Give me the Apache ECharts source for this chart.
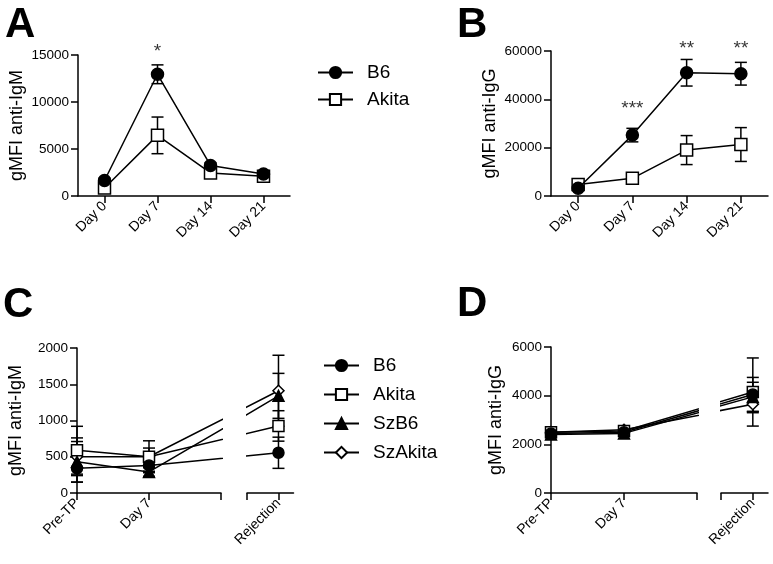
<!DOCTYPE html>
<html>
<head>
<meta charset="utf-8">
<script src="https://cdn.jsdelivr.net/npm/echarts@6/dist/echarts.min.js"></script>
<style>
  html, body { margin: 0; padding: 0; background: #fff; }
  #chart { width: 773px; height: 564px; }
</style>
</head>
<body>
<div id="chart"></div>
<script>
// ---- data: panels A & B (time course after immunisation) ----
const daysAB = ['Day 0', 'Day 7', 'Day 14', 'Day 21'];
const igmB6 = [1650, 12950, 3250, 2350];
const igmB6Sem = [250, 1000, 300, 200];
const igmAkita = [850, 6450, 2450, 2100];
const igmAkitaSem = [250, 1950, 300, 250];
const iggB6 = [3200, 25200, 51000, 50600];
const iggB6Sem = [600, 2800, 5500, 4700];
const iggAkita = [4800, 7300, 19000, 21300];
const iggAkitaSem = [800, 1000, 6000, 7000];
const sigA = ['', '*', '', ''];
const sigAHeight = [null, 15300, null, null];
const sigB = ['', '***', '**', '**'];
const sigBHeight = [null, 36000, 61000, 61000];

// ---- data: panels C & D (transplant) ----
const groupsCD = ['Pre-TP', 'Day 7', 'Rejection'];
const igmCB6 = [340, 380, 555];
const igmCB6Sem = [190, 80, 215];
const igmCAkita = [590, 500, 925];
const igmCAkitaSem = [330, 220, 210];
const igmCSzB6 = [430, 290, 1340];
const igmCSzB6Sem = [280, 60, 310];
const igmCSzAkita = [500, 500, 1410];
const igmCSzAkitaSem = [260, 120, 490];
const iggDB6 = [2450, 2500, 4050];
const iggDB6Sem = [150, 100, 700];
const iggDAkita = [2500, 2550, 4150];
const iggDAkitaSem = [150, 100, 1400];
const iggDSzB6 = [2400, 2450, 3950];
const iggDSzB6Sem = [120, 100, 600];
const iggDSzAkita = [2500, 2600, 3650];
const iggDSzAkitaSem = [150, 100, 350];

// x positions of the C/D groups on the broken axis (layout)
const xPos = [0, 1, 2.8];
const leftMax = 2;
const rightMin = 2.36;
const rightMax = 3.01;

const font = "'Liberation Sans', Arial, Helvetica, sans-serif";
const black = '#000';

const chart = echarts.init(document.getElementById('chart'), null, { renderer: 'canvas' });

const axisLine = { show: true, onZero: false, lineStyle: { color: black, width: 1.5 } };
const tickStyle = { color: black, width: 1.5 };

function yAxis(gi, max, interval, name, gap, show) {
  return {
    type: 'value', gridIndex: gi, min: 0, max: max, interval: interval, show: show,
    splitLine: { show: false },
    axisLine: axisLine,
    axisTick: { show: true, length: 7, lineStyle: tickStyle },
    axisLabel: { fontSize: 13.5, margin: 9, color: black, fontFamily: font, formatter: v => String(v) },
    name: name, nameLocation: 'middle', nameGap: gap, nameMoveOverlap: false,
    nameTextStyle: { fontSize: 18, color: black, fontFamily: font }
  };
}

function catAxis(gi) {
  return {
    type: 'category', gridIndex: gi, data: daysAB, boundaryGap: true,
    axisLine: axisLine,
    axisTick: { show: true, alignWithLabel: true, length: 7, lineStyle: tickStyle },
    axisLabel: { rotate: 45, interval: 0, fontSize: 14, margin: 8, color: black, fontFamily: font },
    splitLine: { show: false }
  };
}

function brokenAxis(gi, min, max, ticks, labels) {
  return {
    type: 'value', gridIndex: gi, min: min, max: max,
    axisLine: axisLine,
    axisTick: { show: true, length: 7, lineStyle: tickStyle, customValues: ticks },
    axisLabel: {
      rotate: 45, fontSize: 14, margin: 8, color: black, fontFamily: font,
      customValues: labels,
      formatter: v => {
        const i = xPos.findIndex(p => Math.abs(p - v) < 1e-6);
        return i >= 0 ? groupsCD[i] : '';
      }
    },
    splitLine: { show: false }
  };
}

const styles = {
  B6: { symbol: 'circle', fill: black },
  Akita: { symbol: 'rect', fill: '#fff' },
  SzB6: { symbol: 'triangle', fill: black },
  SzAkita: { symbol: 'diamond', fill: '#fff' }
};

function lineSeries(name, ai, data, size, z) {
  return {
    type: 'line', name: name, xAxisIndex: ai, yAxisIndex: ai, data: data,
    symbol: styles[name].symbol, symbolSize: size, showSymbol: true,
    lineStyle: { color: black, width: 1.5 },
    itemStyle: { color: styles[name].fill, borderColor: black, borderWidth: 1.5 },
    emphasis: { disabled: true },
    z: z
  };
}

function errSeries(ai, pts) {
  return {
    type: 'custom', xAxisIndex: ai, yAxisIndex: ai, data: pts, z: 1,
    renderItem: (params, api) => {
      const top = api.coord([api.value(0), api.value(2)]);
      const bot = api.coord([api.value(0), api.value(1)]);
      const w = 6;
      const st = { stroke: black, lineWidth: 1.5 };
      return {
        type: 'group',
        children: [
          { type: 'line', shape: { x1: top[0], y1: top[1], x2: bot[0], y2: bot[1] }, style: st },
          { type: 'line', shape: { x1: top[0] - w, y1: top[1], x2: top[0] + w, y2: top[1] }, style: st },
          { type: 'line', shape: { x1: bot[0] - w, y1: bot[1], x2: bot[0] + w, y2: bot[1] }, style: st }
        ]
      };
    }
  };
}

function errCat(vals, sem) {
  return vals.map((v, i) => [i, v - sem[i], v + sem[i]]);
}

function errBroken(vals, sem, keep) {
  return vals.map((v, i) => [xPos[i], v - sem[i], v + sem[i]]).filter(p => keep(p[0]));
}

function sigSeries(ai, marks, heights) {
  const data = [];
  marks.forEach((s, i) => { if (s) data.push({ name: s, value: [i, heights[i]] }); });
  return {
    type: 'scatter', xAxisIndex: ai, yAxisIndex: ai, clip: false, symbolSize: 1,
    itemStyle: { color: 'rgba(0,0,0,0)' }, data: data, z: 5,
    label: { show: true, position: 'inside', formatter: '{b}', fontSize: 19, color: black, fontFamily: font }
  };
}

const series = [];

// A
series.push(errSeries(0, errCat(igmAkita, igmAkitaSem)));
series.push(errSeries(0, errCat(igmB6, igmB6Sem)));
series.push(lineSeries('Akita', 0, igmAkita, 12, 2));
series.push(lineSeries('B6', 0, igmB6, 12, 3));
series.push(sigSeries(0, sigA, sigAHeight));

// B
series.push(errSeries(1, errCat(iggAkita, iggAkitaSem)));
series.push(errSeries(1, errCat(iggB6, iggB6Sem)));
series.push(lineSeries('Akita', 1, iggAkita, 12, 2));
series.push(lineSeries('B6', 1, iggB6, 12, 3));
series.push(sigSeries(1, sigB, sigBHeight));

// C and D: each on a left and a right grid (broken x axis)
const cdSets = [
  { ai: 2, groups: [['SzAkita', igmCSzAkita, igmCSzAkitaSem], ['Akita', igmCAkita, igmCAkitaSem], ['SzB6', igmCSzB6, igmCSzB6Sem], ['B6', igmCB6, igmCB6Sem]] },
  { ai: 4, groups: [['SzAkita', iggDSzAkita, iggDSzAkitaSem], ['Akita', iggDAkita, iggDAkitaSem], ['SzB6', iggDSzB6, iggDSzB6Sem], ['B6', iggDB6, iggDB6Sem]] }
];
cdSets.forEach(set => {
  set.groups.forEach((g, k) => {
    const pts = g[1].map((v, i) => [xPos[i], v]);
    series.push(errSeries(set.ai, errBroken(g[1], g[2], x => x <= leftMax)));
    series.push(errSeries(set.ai + 1, errBroken(g[1], g[2], x => x >= rightMin)));
    series.push(lineSeries(g[0], set.ai, pts, 11, 2 + k * 0.1));
    series.push(lineSeries(g[0], set.ai + 1, pts, 11, 2 + k * 0.1));
  });
});

const legendText = { fontSize: 19, color: black, fontFamily: font, padding: [0, 0, 0, 9] };

const option = {
  animation: false,
  backgroundColor: '#fff',
  grid: [
    { left: 78, top: 55, width: 212, height: 141, outerBoundsMode: 'none' },
    { left: 551, top: 51, width: 217, height: 145, outerBoundsMode: 'none' },
    { left: 77, top: 348, width: 144, height: 145, outerBoundsMode: 'none' },
    { left: 247, top: 348, width: 46.5, height: 145, outerBoundsMode: 'none' },
    { left: 551, top: 347, width: 146, height: 146, outerBoundsMode: 'none' },
    { left: 721, top: 347, width: 47, height: 146, outerBoundsMode: 'none' }
  ],
  xAxis: [
    catAxis(0),
    catAxis(1),
    brokenAxis(2, 0, leftMax, [0, 1, 2], [0, 1]),
    brokenAxis(3, rightMin, rightMax, [rightMin, xPos[2]], [xPos[2]]),
    brokenAxis(4, 0, leftMax, [0, 1, 2], [0, 1]),
    brokenAxis(5, rightMin, rightMax, [rightMin, xPos[2]], [xPos[2]])
  ],
  yAxis: [
    yAxis(0, 15000, 5000, 'gMFI anti-IgM', 52, true),
    yAxis(1, 60000, 20000, 'gMFI anti-IgG', 52, true),
    yAxis(2, 2000, 500, 'gMFI anti-IgM', 52, true),
    yAxis(3, 2000, 500, '', 0, false),
    yAxis(4, 6000, 2000, 'gMFI anti-IgG', 46, true),
    yAxis(5, 6000, 2000, '', 0, false)
  ],
  legend: [
    {
      data: ['B6', 'Akita'], orient: 'vertical', left: 317, top: 63, padding: 0,
      itemWidth: 35, itemHeight: 14, itemGap: 8, selectedMode: false,
      textStyle: legendText
    },
    {
      data: ['B6', 'Akita', 'SzB6', 'SzAkita'], orient: 'vertical', left: 323, top: 356, padding: 0,
      itemWidth: 35, itemHeight: 14, itemGap: 10, selectedMode: false,
      textStyle: legendText
    }
  ],
  graphic: [
    { type: 'text', left: 5, top: 4, style: { text: 'A', font: 'bold 42px ' + font, fill: black } },
    { type: 'text', left: 457, top: 4, style: { text: 'B', font: 'bold 42px ' + font, fill: black } },
    { type: 'text', left: 3, top: 284, style: { text: 'C', font: 'bold 42px ' + font, fill: black } },
    { type: 'text', left: 457, top: 283, style: { text: 'D', font: 'bold 42px ' + font, fill: black } }
  ],
  series: series
};

chart.setOption(option);
</script>
</body>
</html>
